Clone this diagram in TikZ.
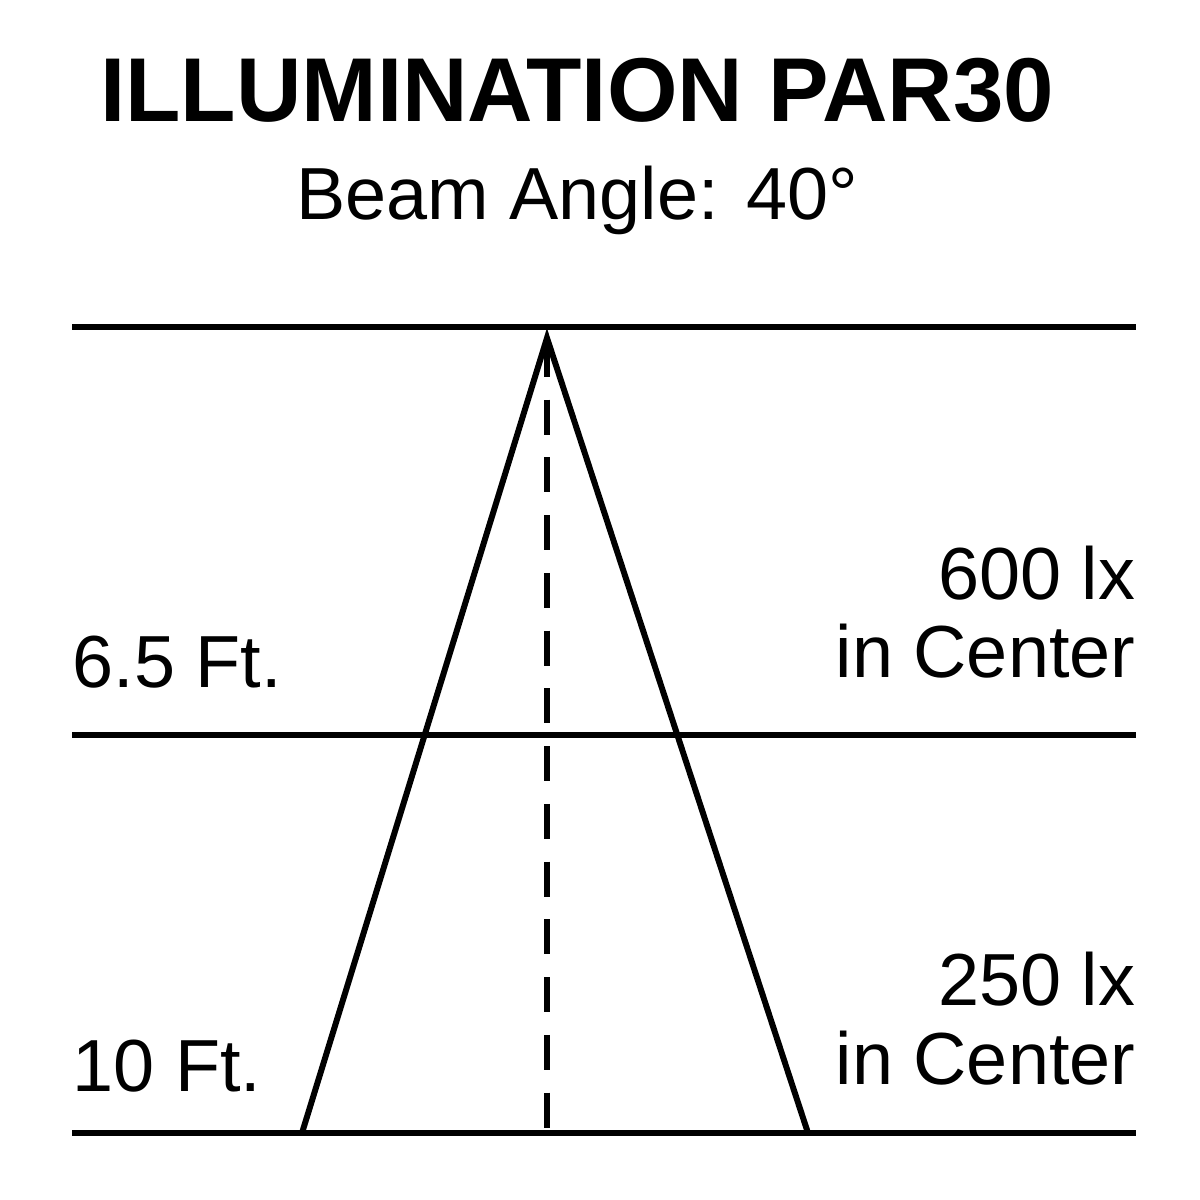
\documentclass[tikz,border=0pt]{standalone}
\usepackage{fontspec}
\setmainfont{Liberation Sans}
\begin{document}
\begin{tikzpicture}[
    level/.style={line width=1.8pt},
    beam/.style={line width=1.7pt},
    axis/.style={line width=1.7pt,dash pattern=on 0.35cm off 0.2275cm},
    lbl/.style={inner sep=0pt,font=\fontsize{21}{26}\selectfont}
  ]
        \useasboundingbox (0,0) rectangle (12,12);
        %% Heading
        \node[inner sep=0pt,anchor=base,font=\fontsize{25.8}{30}\selectfont\bfseries] (title) at (5.77,10.78) {ILLUMINATION PAR30};
        \node[lbl,anchor=base] (angle) at (5.77,9.80) {Beam Angle: 40°};
        %% Levels
        \coordinate (ceilL) at (0.72,8.73);  \coordinate (ceilR) at (11.36,8.73);
        \coordinate (midL) at (0.72,4.65);   \coordinate (midR) at (11.36,4.65);
        \coordinate (floorL) at (0.72,0.67); \coordinate (floorR) at (11.36,0.67);
        \draw[level] (ceilL) -- (ceilR);
        \draw[level] (midL) -- (midR);
        \draw[level] (floorL) -- (floorR);
        %% Beam
        \coordinate (apex) at (5.47,8.62);
        \coordinate (baseL) at (3.02,0.67);
        \coordinate (baseR) at (8.08,0.67);
        \draw[beam] (apex) -- (baseL) -- (baseR) -- cycle;
        \coordinate (axisT) at (5.47,8.58);
        \coordinate (axisB) at (5.47,0.72);
        \draw[axis] (axisT) -- (axisB);
        %% Distances
        \node[lbl,anchor=base west] (dist1) at (0.72,5.12) {6.5 Ft.};
        \node[lbl,anchor=base west] (dist2) at (0.72,1.08) {10 Ft.};
        %% Illuminance
        \node[lbl,anchor=base east] (lux1) at (11.36,6.00) {600 lx};
        \node[lbl,anchor=base east] (ctr1) at (11.36,5.22) {in Center};
        \node[lbl,anchor=base east] (lux2) at (11.36,1.95) {250 lx};
        \node[lbl,anchor=base east] (ctr2) at (11.36,1.16) {in Center};
    \end{tikzpicture}
\end{document}
